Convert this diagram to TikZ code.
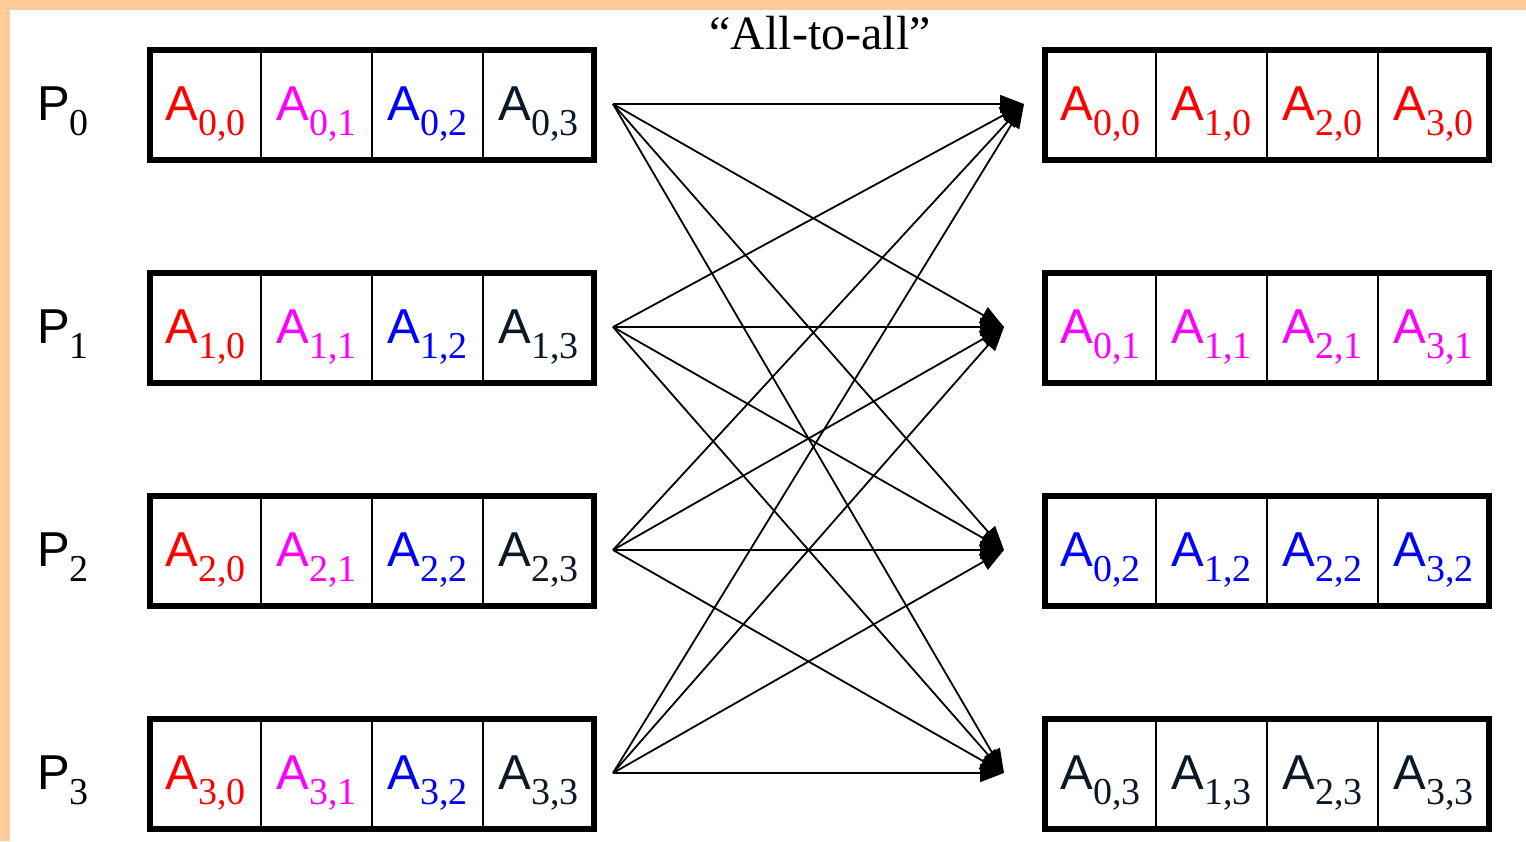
\documentclass[tikz,border=0pt]{standalone}
\usepackage{fontspec}
\setmainfont{Liberation Serif}
\newfontfamily\arialfont{Liberation Sans}
\usepackage{tikz}
\usetikzlibrary{arrows.meta, positioning}
\definecolor{bandorange}{RGB}{255,204,153}
\definecolor{blk0}{RGB}{255,0,0}
\definecolor{blk1}{RGB}{255,0,255}
\definecolor{blk2}{RGB}{0,0,255}
\definecolor{blk3}{RGB}{10,25,40}
\newcommand{\blocklabel}[2]{{\arialfont\fontsize{49}{49}\selectfont #1}\raisebox{-15pt}{\fontsize{38}{38}\selectfont #2}}

\begin{document}
\begin{tikzpicture}[x=1pt, y=-1pt,
    cell/.style={draw, line width=2pt, outer sep=0pt, inner sep=0pt, minimum width=111pt, minimum height=110pt, text height=40pt, text depth=10pt},
    frame/.style={line width=6pt},
    send/.style={line width=1.8pt, -{Triangle[length=24pt,width=18pt]}}]
    \useasboundingbox (0,0) rectangle (1526,841);
    \fill[bandorange] (0,0) rectangle (1526,841);
    \fill[white] (10,10) rectangle (1526,841);
    \node[anchor=base] (title) at (820,49) {\fontsize{48}{48}\selectfont “All-to-all”};
    % source blocks and destination blocks
    \foreach \r in {0,...,3} {
        \node[anchor=base west, inner sep=0pt] (proc-\r) at (37,{120+223*\r}) {\blocklabel{P}{\r}};
        \foreach \j in {0,...,3} {
            \node[cell] (src-\r-\j) at ({205.5+111*\j},{105+223*\r}) {\color{blk\j}\blocklabel{A}{\r,\j}};
            \node[cell] (dst-\r-\j) at ({1100.5+111*\j},{105+223*\r}) {\color{blk\r}\blocklabel{A}{\j,\r}};
        }
        \draw[frame] (src-\r-0.north west) rectangle (src-\r-3.south east);
        \draw[frame] (dst-\r-0.north west) rectangle (dst-\r-3.south east);
    }
    \foreach \r/\tx in {0/1024,1/1004,2/1004,3/1004} {
        \coordinate (out-\r) at (613,{104+223*\r});
        \coordinate (in-\r) at (\tx,{104+223*\r});
    }
    \foreach \a in {0,...,3}
        \foreach \b in {0,...,3}
            \draw[send] (out-\a) -- (in-\b);
\end{tikzpicture}
\end{document}
